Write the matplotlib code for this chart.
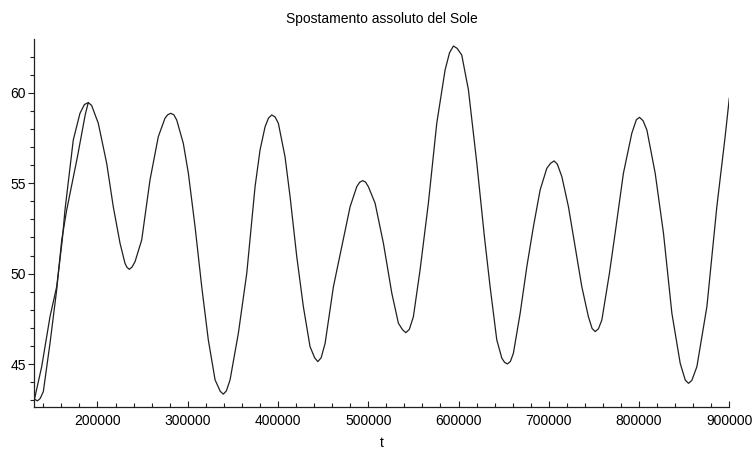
import matplotlib
matplotlib.use("Agg")
import matplotlib.pyplot as plt
from matplotlib.ticker import MultipleLocator

plt.rcParams['font.family'] = ['Liberation Sans', 'DejaVu Sans']

# absolute displacement of the Sun, sampled along t
t_main = [130000, 133500, 136500, 140000, 147400, 154800, 160400, 165900,
          177800, 186500, 189800, 193500, 200900, 210200, 217500, 225000,
          230500, 232700, 235300, 238200, 241600, 249000, 258200, 267400,
          274800, 277800, 281200, 284600, 287800, 295100, 300700, 308100,
          315500, 322800, 330300, 336000, 339400, 342800, 346900, 356100,
          365400, 374600, 380100, 385700, 389500, 393100, 396800, 400400,
          407800, 413400, 420800, 428100, 435500, 440600, 444100, 447800,
          452200, 461400, 470700, 479900, 487300, 490500, 493900, 497000,
          500100, 507600, 516800, 526100, 533400, 538000, 541600, 545500,
          550000, 557400, 566600, 575900, 585100, 590000, 594300, 598500,
          603600, 611000, 620300, 628700, 635000, 642400, 648000, 651000,
          654200, 657500, 660800, 668300, 675700, 683000, 690400, 697800,
          702000, 705900, 709500, 714500, 721800, 729200, 736600, 743900,
          748000, 751400, 755000, 758800, 767200, 773500, 782700, 792000,
          797000, 800500, 804500, 808700, 817900, 827100, 836400, 845600,
          851200, 854800, 858500, 864100, 875200, 886200, 895400, 900000]
s_main = [43.07, 42.97, 43.10, 43.48, 46.15, 49.10, 51.86, 53.52,
          56.46, 58.80, 59.45, 59.30, 58.31, 56.10, 53.70, 51.68,
          50.57, 50.35, 50.24, 50.36, 50.66, 51.86, 55.18, 57.57,
          58.59, 58.78, 58.86, 58.78, 58.49, 57.20, 55.55, 52.60,
          49.28, 46.34, 44.13, 43.50, 43.34, 43.52, 44.13, 46.71,
          50.02, 54.81, 56.83, 58.12, 58.60, 58.77, 58.66, 58.31,
          56.46, 54.25, 50.94, 48.18, 45.97, 45.35, 45.14, 45.35,
          46.15, 49.28, 51.49, 53.70, 54.81, 55.05, 55.14, 55.06,
          54.81, 53.89, 51.68, 48.92, 47.26, 46.90, 46.74, 46.92,
          47.62, 50.20, 53.89, 58.31, 61.25, 62.20, 62.58, 62.45,
          62.08, 60.15, 56.10, 52.04, 49.28, 46.34, 45.33, 45.10,
          45.01, 45.15, 45.60, 47.81, 50.39, 52.60, 54.62, 55.82,
          56.10, 56.23, 56.05, 55.36, 53.70, 51.49, 49.28, 47.62,
          46.97, 46.80, 46.95, 47.44, 50.02, 52.23, 55.55, 57.76,
          58.50, 58.64, 58.45, 57.94, 55.55, 52.23, 47.81, 45.05,
          44.12, 43.94, 44.10, 44.86, 48.18, 53.70, 57.57, 59.69]

# second branch, only over the first rise
t_start = [130000, 138200, 147400, 154800, 161000, 164000, 173200, 180600,
           185600, 189800]
s_start = [43.02, 44.86, 47.62, 49.28, 51.86, 53.52, 57.39, 58.86,
           59.35, 59.45]

xticks = [200000, 300000, 400000, 500000, 600000, 700000, 800000, 900000]
yticks = [45, 50, 55, 60]

fig = plt.figure(figsize=(7.52, 4.53), dpi=100)
ax = fig.add_axes([0.0456, 0.1015, 0.9242, 0.8117])

ax.plot(t_main, s_main, color='#202020', lw=0.9)
ax.plot(t_start, s_start, color='#202020', lw=0.9)

ax.set_xlim(130000, 900000)
ax.set_ylim(42.63, 62.95)

ax.spines['top'].set_visible(False)
ax.spines['right'].set_visible(False)
for sp in ('left', 'bottom'):
    ax.spines[sp].set_linewidth(0.9)
    ax.spines[sp].set_color('#202020')

ax.set_xticks(xticks)
ax.set_xticklabels([str(v) for v in xticks])
ax.set_yticks(yticks)
ax.set_yticklabels([str(v) for v in yticks])
ax.xaxis.set_minor_locator(MultipleLocator(20000))
ax.yaxis.set_minor_locator(MultipleLocator(1))

ax.tick_params(axis='x', which='both', direction='in', labelsize=10, pad=5)
ax.tick_params(axis='y', which='both', direction='out', labelsize=10, pad=2)
ax.tick_params(which='major', length=4, width=0.8, color='#202020')
ax.tick_params(which='minor', length=3, width=0.8, color='#202020')

ax.set_title('Spostamento assoluto del Sole', fontsize=10, pad=12)
ax.set_xlabel('t', fontsize=10, labelpad=6)

fig.savefig('out.png', dpi=100)
